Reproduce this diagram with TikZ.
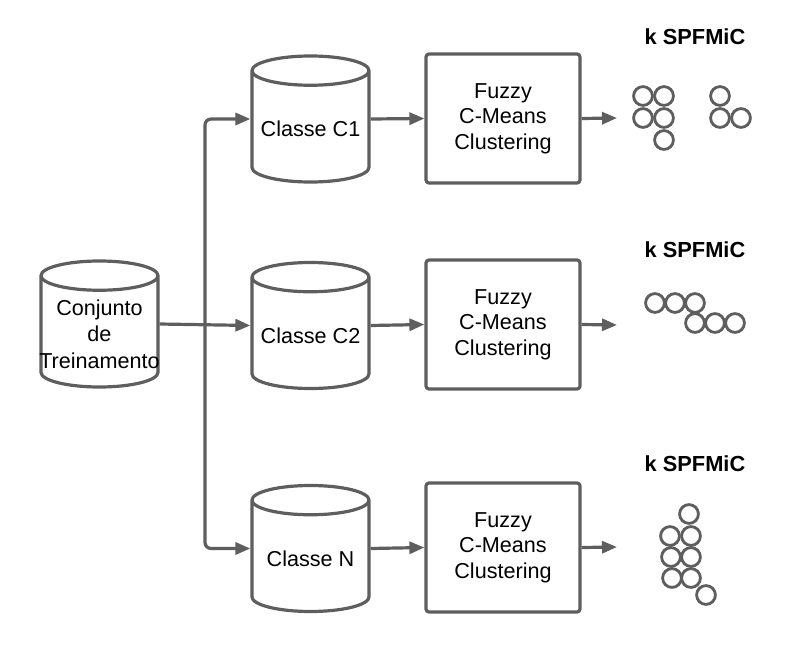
\documentclass[tikz,border=0pt]{standalone}
\usepackage{fontspec}
\setmainfont{Liberation Sans}
\usetikzlibrary{calc, shapes.geometric, arrows.meta, positioning}

\definecolor{lgray}{HTML}{5E5E5E}

\tikzset{
  ln/.style={line width=3.2pt, draw=lgray},
  flow/.style={ln, -{Triangle[length=15pt,width=12pt]}},
  dbase/.style={ln, cylinder, shape border rotate=90, aspect=0.25,
    text width=117pt, minimum width=117pt, minimum height=126pt, inner sep=0pt,
    anchor=shape center},
  dtext/.style={align=center, inner sep=0pt, font=\fontsize{21.6}{26.5}\selectfont},
  fcm/.style={ln, rectangle, rounded corners=3pt, minimum width=154pt,
    minimum height=129pt, inner sep=0pt, align=center,
    font=\fontsize{21.6}{25.5}\selectfont},
  kcap/.style={font=\fontsize{21.8}{25}\selectfont\bfseries},
  ring/.style={line width=2.8pt, draw=lgray}
}

\begin{document}
\begin{tikzpicture}[x=1pt,y=-1pt]
        \pgfmathsetmacro{\rc}{9.4}
        \useasboundingbox (0,0) rectangle (807,656);
        % data base and classes
        \node[dbase] (conj) at (99.5,324) {};
        \node[dbase] (c1) at (310.5,119) {};
        \node[dbase] (c2) at (310.5,325.5) {};
        \node[dbase] (cN) at (310.5,548.5) {};
        \node[dtext] (tconj) at (99.5,334) {Conjunto\\de\\Treinamento};
        \node[dtext] (tc1) at (310.5,129) {Classe C1};
        \node[dtext] (tc2) at (310.5,335.5) {Classe C2};
        \node[dtext] (tcN) at (310.5,558.5) {Classe N};
        \node[fcm] (f1) at (503,118.5) {Fuzzy\\C-Means\\Clustering};
        \node[fcm] (f2) at (503,324.5) {Fuzzy\\C-Means\\Clustering};
        \node[fcm] (fN) at (503,547.5) {Fuzzy\\C-Means\\Clustering};
        \node[kcap] (k1) at (695,37) {k SPFMiC};
        \node[kcap] (k2) at (695,250) {k SPFMiC};
        \node[kcap] (kN) at (695,464) {k SPFMiC};
        \coordinate (split) at (205,325);
        \coordinate (o1) at (617,118);
        \coordinate (o2) at (617,325);
        \coordinate (oN) at (617,547);
        \draw[flow] (conj.east |- conj.shape center) -- (c2.west |- c2.shape center);
        \draw[flow, rounded corners=6pt] (split) |- (c1.west |- c1.shape center);
        \draw[flow, rounded corners=6pt] (split) |- (cN.west |- cN.shape center);
        \draw[flow] (c1.east |- c1.shape center) -- (f1.west);
        \draw[flow] (c2.east |- c2.shape center) -- (f2.west);
        \draw[flow] (cN.east |- cN.shape center) -- (fN.west);
        \draw[flow] (f1.east) -- (o1);
        \draw[flow] (f2.east) -- (o2);
        \draw[flow] (fN.east) -- (oN);
        % clusters
        \foreach \x/\y in {643/96, 664/96, 643/118, 664/118, 664/140, 720/96, 720/118, 741/118}
          \draw[ring] (\x,\y) circle (\rc pt);
        \foreach \x/\y in {655/303, 675/303, 695/303, 695/323, 715/323, 735/323}
          \draw[ring] (\x,\y) circle (\rc pt);
        \foreach \x/\y in {689/514, 670/536, 691/536, 671/557, 691/557, 672/578, 691/578, 706/595}
          \draw[ring] (\x,\y) circle (\rc pt);
\end{tikzpicture}
\end{document}
